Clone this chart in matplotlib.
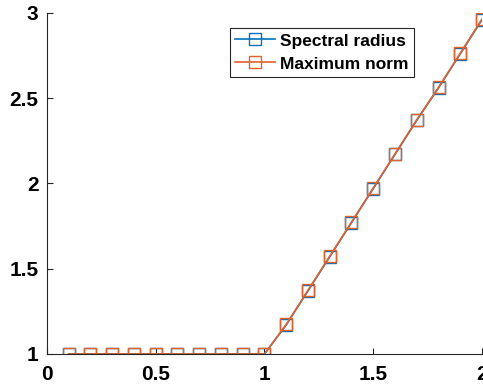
import matplotlib
matplotlib.use("Agg")
import matplotlib.pyplot as plt

x = [0.1, 0.2, 0.3, 0.4, 0.5, 0.6, 0.7, 0.8, 0.9, 1.0,
     1.1, 1.2, 1.3, 1.4, 1.5, 1.6, 1.7, 1.8, 1.9, 2.0]
spectral = [1, 1, 1, 1, 1, 1, 1, 1, 1, 1,
            1.17, 1.37, 1.57, 1.77, 1.97, 2.17, 2.37, 2.56, 2.76, 2.96]
maxnorm = [1, 1, 1, 1, 1, 1, 1, 1, 1, 1,
           1.173, 1.373, 1.573, 1.773, 1.973, 2.173, 2.373, 2.563, 2.763, 2.963]

xticks = [0, 0.5, 1, 1.5, 2]
xticklabels = ['0', '0.5', '1', '1.5', '2']
yticks = [1, 1.5, 2, 2.5, 3]
yticklabels = ['1', '1.5', '2', '2.5', '3']

plt.rcParams['font.family'] = ['Liberation Sans', 'DejaVu Sans']
plt.rcParams['font.weight'] = 'bold'

fig = plt.figure(figsize=(4.83, 3.89), dpi=100)
ax = fig.add_axes([0.097, 0.09, 0.901, 0.877])

ax.plot(x, spectral, color='#0072BD', marker='s', markersize=8,
        markerfacecolor='none', linewidth=1.2, label='Spectral radius')
ax.plot(x, maxnorm, color='#E0622D', marker='s', markersize=8,
        markerfacecolor='none', linewidth=1.2, label='Maximum norm')

ax.set_xlim(0, 2)
ax.set_ylim(1, 3)
ax.set_xticks(xticks)
ax.set_xticklabels(xticklabels)
ax.set_yticks(yticks)
ax.set_yticklabels(yticklabels)
ax.tick_params(direction='in', length=4, width=0.8, colors='#262626',
               labelsize=15, labelcolor='black')
ax.tick_params(axis='x', pad=8)
ax.tick_params(axis='y', pad=6)
for lab in ax.get_xticklabels() + ax.get_yticklabels():
    lab.set_fontweight('bold')

for side in ['top', 'right']:
    ax.spines[side].set_visible(False)
for side in ['left', 'bottom']:
    ax.spines[side].set_color('#262626')
    ax.spines[side].set_linewidth(0.8)

leg = ax.legend(loc='upper left', bbox_to_anchor=(0.42, 0.955),
                prop={'weight': 'bold', 'size': 12.5}, fancybox=False,
                framealpha=1, edgecolor='#262626', borderpad=0.3,
                handlelength=2.3, handletextpad=0.3, labelspacing=0.45,
                borderaxespad=0)
leg.get_frame().set_linewidth(0.8)

fig.savefig('out.png', dpi=100)
